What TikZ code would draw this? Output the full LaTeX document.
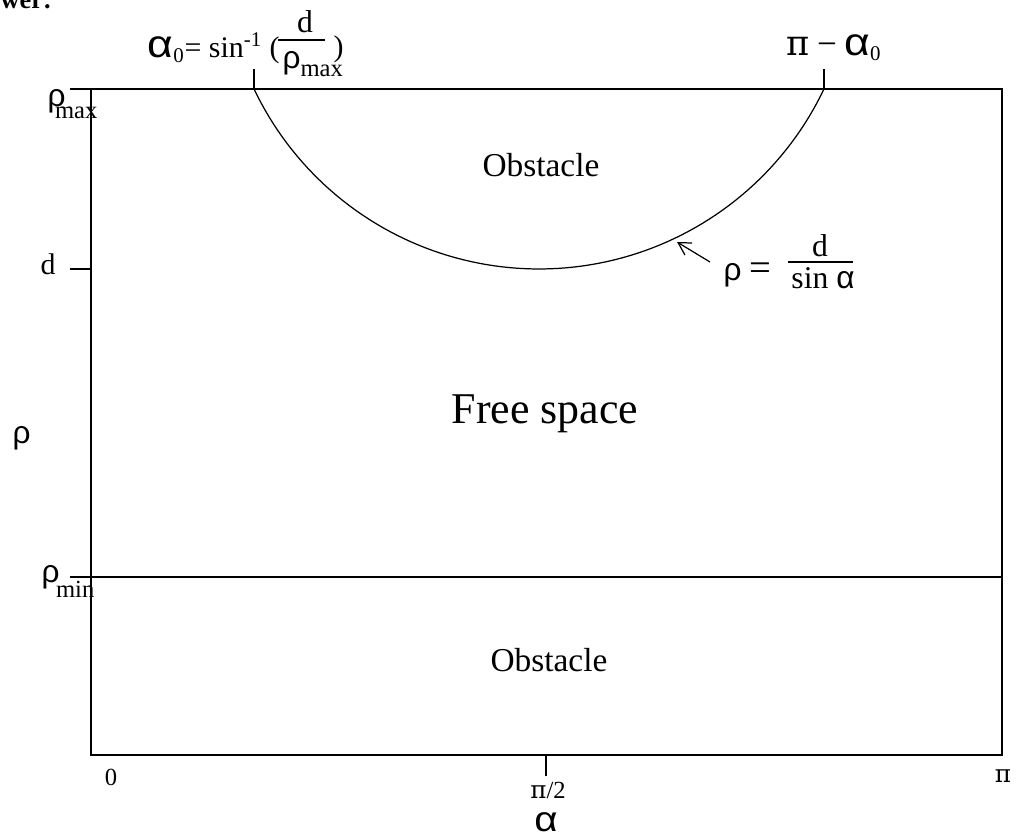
\documentclass[tikz,border=0pt]{standalone}
\usepackage{fontspec}
\setmainfont{Liberation Serif}
\newfontfamily\gk{Liberation Sans}
\newfontfamily\gkw[FakeStretch=1.15]{Liberation Sans}
\newfontfamily\pisym{DejaVu Serif}
\newcommand\rhosym{{\gk\fontsize{18}{20}\selectfont ρ}}
\newcommand\bigalpha{{\gkw\fontsize{22}{24}\selectfont α}}
\newcommand\smallsub[1]{{\fontsize{14}{16}\selectfont #1}}
\usetikzlibrary{arrows.meta}

\begin{document}
\begin{tikzpicture}[x=0.02cm, y=-0.02cm, inner sep=0pt, line width=0.7pt,
    lbl/.style={font=\fontsize{17}{20}\selectfont},
    fraclbl/.style={font=\fontsize{18}{21}\selectfont},
    ticklbl/.style={font=\fontsize{14}{16}\selectfont},
    region/.style={font=\fontsize{19}{23}\selectfont}]
    \useasboundingbox (0,0) rectangle (1016,837);
    \node[anchor=base west, font=\bfseries\fontsize{15}{18}\selectfont] (hdr) at (0,9) {wer:};
    % frame and level lines
    \draw (91,89) rectangle (1002,755);
    \coordinate (maxL) at (70,89);
    \coordinate (minL) at (70,577);
    \coordinate (minR) at (1002,577);
    \draw (maxL) -- (91,89);
    \draw (minL) -- (minR);
    \draw (70,269) -- (91,269);
    % ticks on the alpha axis
    \coordinate (a0) at (254,89);
    \coordinate (pa0) at (824,89);
    \coordinate (half) at (546,755);
    \draw (a0) -- ++(0,-20);
    \draw (pa0) -- ++(0,-20);
    \draw (half) -- ++(0,21);
    % boundary rho = d/sin(alpha)
    \draw plot[domain=25.4:154.6, samples=90] ({539+315.6*cos(\x)},{-46.6+315.6*sin(\x)});
    \coordinate (arrtip) at (677,242);
    \node[lbl, anchor=base west] (rhoeq) at (723,281) {\rhosym\ {\fontsize{22}{24}\selectfont =}};
    \node[fraclbl, anchor=base] (sinnum) at (820,257) {d};
    \node[fraclbl, anchor=base] (sinden) at (823,289) {sin {\gk α}};
    \draw (788,262) -- (853,262);
    \draw[-{Straight Barb[length=7pt, width=8pt]}] (rhoeq.base west) ++(-13,-19) -- (arrtip);
    % labels at the top
    \node[lbl, anchor=base west] (alab) at (147,58) {\bigalpha\textsubscript{0}= sin\textsuperscript{-1} (};
    \node[fraclbl, anchor=base] (a0num) at (305,33) {d};
    \node[lbl, anchor=base west] (a0den) at (282,69) {\rhosym\raisebox{-4pt}{\smallsub{max}}};
    \draw (278,40) -- (325,40);
    \node[lbl, anchor=base west] (a0close) at (333,57) {)};
    \node[lbl, anchor=base west] (palab) at (786,56)
      {{\pisym\fontsize{20}{22}\selectfont π} {\fontsize{20}{22}\selectfont −} \bigalpha\textsubscript{0}};
    % labels on the rho axis
    \node[lbl, anchor=base west] (rmaxlab) at (47,107) {\rhosym\kern-6pt\raisebox{-6.5pt}{\smallsub{max}}};
    \node[lbl, anchor=base west] (dlab) at (40,275) {d};
    \node[lbl, anchor=base west] (rholab) at (12,443) {\rhosym};
    \node[lbl, anchor=base west] (rminlab) at (41,582) {\rhosym\kern-2pt\raisebox{-9pt}{\smallsub{min}}};
    % labels on the alpha axis
    \node[ticklbl] (zerolab) at (111,777) {0};
    \node[ticklbl] (halflab) at (548,790) {{\pisym π}/2};
    \node[ticklbl] (pilab) at (1003,776) {\pisym π};
    \node[anchor=base, font=\gkw\fontsize{20}{22}\selectfont] (alphalab) at (546,831) {α};
    % regions
    \node[region] (obsup) at (541,165) {Obstacle};
    \node[font=\fontsize{25}{30}\selectfont] (free) at (545,414) {Free space};
    \node[region] (obsdown) at (549,660) {Obstacle};
\end{tikzpicture}
\end{document}
